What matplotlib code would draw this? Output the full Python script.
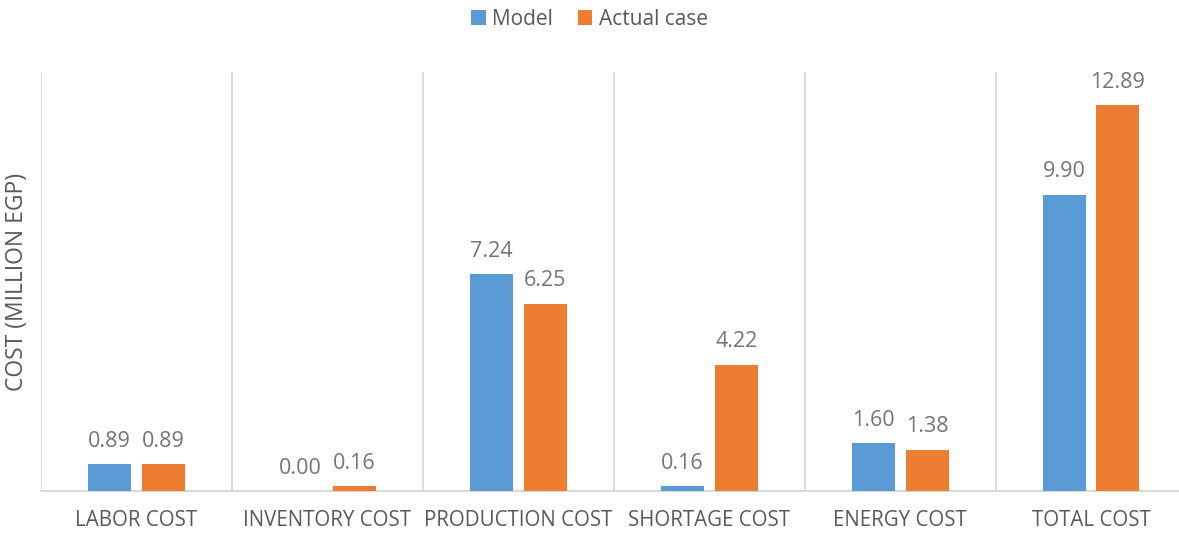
import matplotlib
matplotlib.use("Agg")
import matplotlib.pyplot as plt
import numpy as np

categories = ["LABOR COST", "INVENTORY COST", "PRODUCTION COST", "SHORTAGE COST", "ENERGY COST", "TOTAL COST"]
model = [0.89, 0.00, 7.24, 0.16, 1.60, 9.90]
actual = [0.89, 0.16, 6.25, 4.22, 1.38, 12.89]
series_names = ["Model", "Actual case"]

plt.rcParams['font.family'] = ['Open Sans', 'DejaVu Sans']
gray = '#595959'
blue = '#5B9BD5'
orange = '#ED7D31'

fig = plt.figure(figsize=(11.79, 5.33), dpi=100)
ax = fig.add_axes([41/1179, 1-491/533, (1186.5-41)/1179, (491-72)/533])

x = np.arange(len(categories))
w = 0.225
off = 0.141
b1 = ax.bar(x - off, model, w, color=blue, label=series_names[0], zorder=3)
b2 = ax.bar(x + off, actual, w, color=orange, label=series_names[1], zorder=3)

for bars, vals in ((b1, model), (b2, actual)):
    for r, v in zip(bars, vals):
        ax.annotate(f"{v:.2f}", (r.get_x() + r.get_width()/2, r.get_height()),
                    xytext=(0, 9), textcoords='offset points', ha='center', va='bottom',
                    fontsize=15.5, color='#757575')

ax.set_xlim(-0.5, len(categories) - 0.5)
ax.set_ylim(0, 14)
ax.set_xticks(x)
ax.set_xticklabels(categories, fontsize=14.8, color=gray)
ax.tick_params(axis='x', length=0, pad=14)
ax.set_yticks([])
for b in np.arange(-0.5, len(categories), 1.0):
    ax.axvline(b, color='#D9D9D9', lw=1.3, zorder=1)
for s in ['top', 'right', 'left']:
    ax.spines[s].set_visible(False)
ax.spines['bottom'].set_color('#D9D9D9')
ax.spines['bottom'].set_linewidth(1.5)
ax.set_ylabel("COST (MILLION EGP)", fontsize=16.5, color=gray)
ax.yaxis.set_label_coords(-12/1145.5, 0.5)

fig.legend(loc='center', bbox_to_anchor=(0.5, 1-19/533), ncol=2, frameon=False,
           fontsize=15, handlelength=0.7, handleheight=0.7, handletextpad=0.3,
           columnspacing=1.2, labelcolor=gray)

fig.savefig("out.png", dpi=100)
